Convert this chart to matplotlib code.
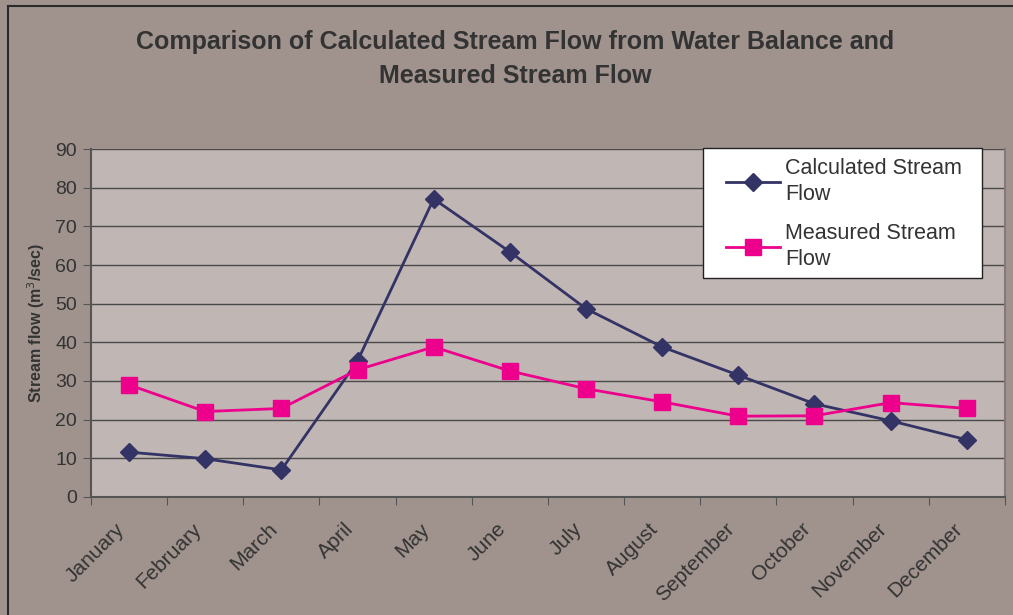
import numpy as np
import matplotlib
matplotlib.use("Agg")
import matplotlib.pyplot as plt
from matplotlib.lines import Line2D
from matplotlib.patches import Rectangle
from matplotlib.transforms import ScaledTranslation

plt.rcParams['font.family'] = ['Liberation Sans', 'DejaVu Sans']

months = ['January', 'February', 'March', 'April', 'May', 'June', 'July',
          'August', 'September', 'October', 'November', 'December']
calculated = [11.6, 9.9, 7.0, 35.2, 77.1, 63.4, 48.7, 38.8, 31.5, 24.1, 19.7, 14.8]
measured = [29.0, 22.1, 22.9, 32.9, 38.8, 32.6, 28.0, 24.6, 20.9, 21.0, 24.4, 22.9]
yticks = np.arange(0, 91, 10)

fig = plt.figure(figsize=(10.13, 6.15), dpi=100)
fig.patch.set_facecolor('#a0938e')

# outer chart border (only left and top visible in the crop)
fig.add_artist(Line2D([8/1013, 8/1013], [0, 1 - 6/615], transform=fig.transFigure,
                      color='#2a2a2a', lw=1.5))
fig.add_artist(Line2D([8/1013, 1], [1 - 6/615, 1 - 6/615], transform=fig.transFigure,
                      color='#2a2a2a', lw=1.5))

ax = fig.add_axes([0.0898, 0.1919, 0.9022, 0.5658])
ax.set_facecolor('#c0b6b3')

x = np.arange(len(months))
ax.plot(x, calculated, color='#333366', lw=2, marker='D', ms=9.5,
        label='Calculated Stream\nFlow', zorder=3)
ax.plot(x, measured, color='#ec008c', lw=2, marker='s', ms=12,
        label='Measured Stream\nFlow', zorder=3)

ax.set_xlim(-0.5, 11.5)
ax.set_ylim(0, 90)
ax.set_yticks(yticks)
ax.yaxis.grid(True, color='#4a4a4a', lw=1)
ax.set_axisbelow(True)

# ticks between categories, labels at centers
ax.set_xticks(np.arange(-0.5, 12, 1))
ax.set_xticklabels([])
ax.set_xticks(x, minor=True)
ax.tick_params(axis='x', which='minor', length=0, pad=21)
ax.tick_params(axis='x', which='major', length=6, color='#555555', direction='out')
ax.tick_params(axis='y', length=6, color='#555555', labelsize=14,
               labelcolor='#333333', pad=4)
ax.set_xticklabels(months, minor=True, rotation=45, ha='right', va='center',
                   rotation_mode='anchor', fontsize=15, color='#333333')
shift = ScaledTranslation(-7/100, 0, fig.dpi_scale_trans)
for lab in ax.get_xticklabels(minor=True):
    lab.set_transform(lab.get_transform() + shift)

ax.spines['top'].set_visible(False)
ax.spines['right'].set_color('#857a77')
ax.spines['right'].set_linewidth(1.5)
for s in ['left', 'bottom']:
    ax.spines[s].set_color('#555555')
    ax.spines[s].set_linewidth(1.5)

ax.set_ylabel('Stream flow (m$^3$/sec)', fontsize=11.5, fontweight='bold',
              color='#333333', labelpad=6)

fig.text(0.509, 1 - 30/615,
         'Comparison of Calculated Stream Flow from Water Balance and\nMeasured Stream Flow',
         ha='center', va='top', fontsize=18, fontweight='bold', color='#333333',
         linespacing=1.55)

# legend box
ax.add_patch(Rectangle((0.6696, 0.6293), 0.3052, 0.3736, transform=ax.transAxes,
                       facecolor='white', edgecolor='#222222', lw=1, zorder=4,
                       clip_on=False))
leg = ax.legend(loc='upper left', bbox_to_anchor=(0.6947, 0.975), fontsize=15.5,
                frameon=False, handlelength=2.5, labelspacing=0.8, borderpad=0,
                handletextpad=0.25, borderaxespad=0)
leg.set_zorder(5)
for t in leg.get_texts():
    t.set_color('#333333')
    t.set_linespacing(1.35)

plt.savefig('out.png', dpi=100, facecolor=fig.get_facecolor())
plt.close()
